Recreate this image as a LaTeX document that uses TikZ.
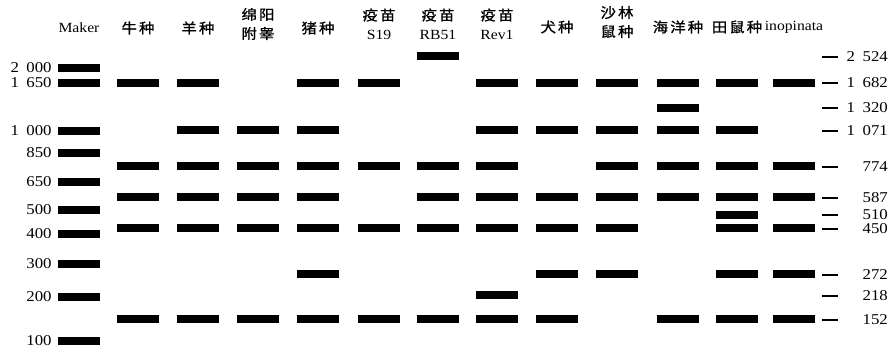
\documentclass[tikz,border=0pt]{standalone}
\usepackage{fontspec}
\setmainfont{Liberation Serif}[FakeStretch=1.12]
\newfontfamily\cjk{Noto Sans CJK SC}[FakeStretch=1.1,LetterSpace=15,FakeBold=1]
\usetikzlibrary{positioning}
\tikzstyle{band} = [fill=black,minimum width=42pt,minimum height=8pt,inner sep=0pt]
\tikzstyle{tickmark} = [fill=black,minimum width=16pt,minimum height=2pt,inner sep=0pt]
\tikzstyle{num} = [font=\fontsize{15}{15}\selectfont,inner sep=0pt]
\tikzstyle{lane} = [font=\fontsize{14}{19}\selectfont,align=center,inner sep=0pt]

\begin{document}
\begin{tikzpicture}[x=1pt,y=-1pt]
	\useasboundingbox (0,0) rectangle (892,352);

	% lane titles
	\node (h0)[lane] at (79,28) {Maker};
	\node (h1)[lane] at (138,28) {\cjk 牛种};
	\node (h2)[lane] at (198,28) {\cjk 羊种};
	\node (h3)[lane] at (258,24) {\cjk 绵阳\\\cjk 附睾};
	\node (h4)[lane] at (318,28) {\cjk 猪种};
	\node (h5)[lane] at (379,24) {\cjk 疫苗\\S19};
	\node (h6)[lane] at (438,24) {\cjk 疫苗\\RB51};
	\node (h7)[lane] at (497,24) {\cjk 疫苗\\Rev1};
	\node (h8)[lane] at (557,27) {\cjk 犬种};
	\node (h9)[lane] at (617,22) {\cjk 沙林\\\cjk 鼠种};
	\node (h10)[lane] at (678,27) {\cjk 海洋种};
	\node (h11)[lane] at (737,27) {\cjk 田鼠种};
	\node (h12)[lane] at (794,27) {inopinata};

	% marker
	\foreach \y/\t in {68/2\enspace000,83/1\enspace650,131/1\enspace000,153/850,182/650,
			210/500,234/400,264/300,297/200,341/100}{
		\node (m\y)[band] at (79,\y) {};
		\node (ml\y)[num,left=6pt of m\y] {\t};
	}

	% samples
	\foreach \y in {83,166,197,228,319} \node (b1-\y)[band] at (138,\y) {};
	\foreach \y in {83,130,166,197,228,319} \node (b2-\y)[band] at (198,\y) {};
	\foreach \y in {130,166,197,228,319} \node (b3-\y)[band] at (258,\y) {};
	\foreach \y in {83,130,166,197,228,274,319} \node (b4-\y)[band] at (318,\y) {};
	\foreach \y in {83,166,228,319} \node (b5-\y)[band] at (379,\y) {};
	\foreach \y in {56,166,197,228,319} \node (b6-\y)[band] at (438,\y) {};
	\foreach \y in {83,130,166,197,228,295,319} \node (b7-\y)[band] at (497,\y) {};
	\foreach \y in {83,130,197,228,274,319} \node (b8-\y)[band] at (557,\y) {};
	\foreach \y in {83,130,166,197,228,274} \node (b9-\y)[band] at (617,\y) {};
	\foreach \y in {83,108,130,166,197,319} \node (b10-\y)[band] at (678,\y) {};
	\foreach \y in {83,130,166,197,215,228,274,319} \node (b11-\y)[band] at (737,\y) {};
	\foreach \y in {83,166,197,228,274,319} \node (b12-\y)[band] at (794,\y) {};

	% sizes
	\foreach \y/\t in {57/2\enspace524,83/1\enspace682,108/1\enspace320,131/1\enspace071,167/774,
			198/587,215/510,229/450,275/272,296/218,320/152}{
		\node (t\y)[tickmark] at (830,\y) {};
		\node (tl\y)[num,anchor=east] at (888,\y) {\t};
	}
\end{tikzpicture}
\end{document}
